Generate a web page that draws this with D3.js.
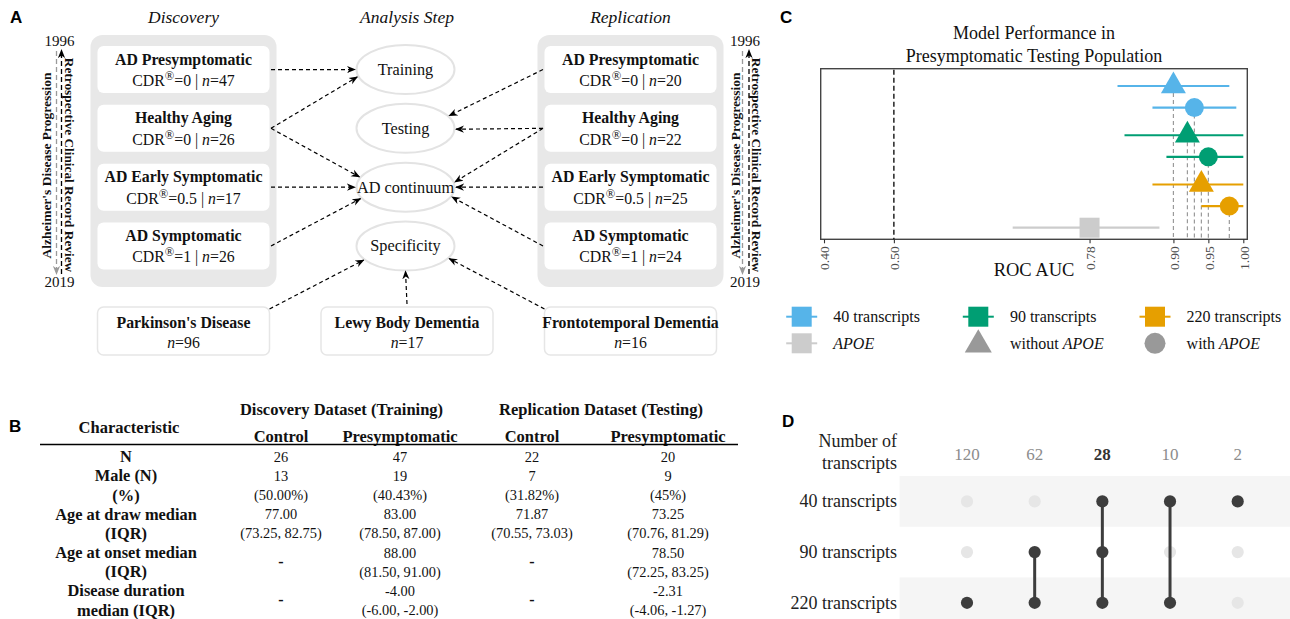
<!DOCTYPE html>
<html><head><meta charset="utf-8">
<script src="https://cdn.jsdelivr.net/npm/d3@7/dist/d3.min.js"></script>
<style>
html,body{margin:0;padding:0;background:#fff;}
svg{display:block;}
</style></head>
<body>
<svg id="fig" width="1290" height="619"></svg>
<script>
// ================= DATA =================
// Panel A
const cohortGroups = ["AD Presymptomatic","Healthy Aging","AD Early Symptomatic","AD Symptomatic"];
const cohortCDR = ["0","0","0.5","1"];
const discoveryN = [47,26,17,26];
const replicationN = [20,22,25,24];
const analysisSteps = ["Training","Testing","AD continuum","Specificity"];
const otherDiseases = ["Parkinson's Disease","Lewy Body Dementia","Frontotemporal Dementia"];
const otherN = [96,17,16];
const discoveryLinks = [[0,"Training"],[1,"Training"],[1,"AD continuum"],[2,"AD continuum"],[3,"AD continuum"]];
const replicationLinks = [[0,"Testing"],[1,"Testing"],[1,"AD continuum"],[2,"AD continuum"],[3,"AD continuum"]];
const otherLinks = [[0,"Specificity"],[1,"Specificity"],[2,"Specificity"]];
const timelineYears = ["1996","2019"];
const timelineLabels = ["Alzheimer's Disease Progression","Retrospective Clinical Record Review"];
const columnTitles = ["Discovery","Analysis Step","Replication"];

// Panel B
const tableGroups = ["Discovery Dataset (Training)","Replication Dataset (Testing)"];
const tableColumns = ["Control","Presymptomatic","Control","Presymptomatic"];
const characteristics = ["N","Male (N)","(%)","Age at draw median","(IQR)","Age at onset median","(IQR)","Disease duration","median (IQR)"];
const discoveryControl = ["26","13","(50.00%)","77.00","(73.25, 82.75)","-",null,"-",null];
const discoveryPresymptomatic = ["47","19","(40.43%)","83.00","(78.50, 87.00)","88.00","(81.50, 91.00)","-4.00","(-6.00, -2.00)"];
const replicationControl = ["22","7","(31.82%)","71.87","(70.55, 73.03)","-",null,"-",null];
const replicationPresymptomatic = ["20","9","(45%)","73.25","(70.76, 81.29)","78.50","(72.25, 83.25)","-2.31","(-4.06, -1.27)"];

// Panel C
const modelSets = ["40 transcripts","40 transcripts","90 transcripts","90 transcripts","220 transcripts","220 transcripts","APOE"];
const modelApoe = ["without","with","without","with","without","with","only"];
const aucEstimate = [0.90,0.93,0.92,0.95,0.94,0.98,0.78];
const aucLower = [0.82,0.87,0.83,0.89,0.87,0.94,0.67];
const aucUpper = [0.98,0.99,1.00,1.00,1.00,1.00,0.88];
const aucTicks = [0.40,0.50,0.78,0.90,0.95,1.00];
const chanceLevel = 0.50;

// Panel D
const transcriptSets = ["40 transcripts","90 transcripts","220 transcripts"];
const intersectionSizes = [120,62,28,10,2];
const intersectionMembers = [["220 transcripts"],["90 transcripts","220 transcripts"],["40 transcripts","90 transcripts","220 transcripts"],["40 transcripts","220 transcripts"],["40 transcripts"]];

// ================= STYLE =================
const SERIF = '"Liberation Serif","Times New Roman",Times,serif';
const SANS = '"Liberation Sans",Arial,sans-serif';
const setColor = {"40 transcripts":"#56B4E9","90 transcripts":"#009E73","220 transcripts":"#E69F00","APOE":"#CCCCCC"};

const svg = d3.select("#fig");
const defs = svg.append("defs");
function marker(id,color){
  defs.append("marker").attr("id",id).attr("viewBox","0 -5 10 10").attr("refX",9).attr("refY",0)
    .attr("markerUnits","userSpaceOnUse").attr("markerWidth",9).attr("markerHeight",9).attr("orient","auto")
    .append("path").attr("d","M0,-4L10,0L0,4L3,0Z").attr("fill",color);
}
marker("arrBlack","#000"); marker("arrGray","#9a9a9a");

// panel letters
[["A",10,23],["B",9,432],["C",780,23],["D",782,427]].forEach(([t,x,y])=>
  svg.append("text").attr("x",x).attr("y",y).attr("font-family",SANS).attr("font-weight","bold").attr("font-size",17).text(t));

// ================= PANEL A =================
const A = svg.append("g").attr("font-family",SERIF).attr("fill","#111");
const colX = d3.scalePoint().domain(columnTitles).range([183.5,630.5]);
const rowY = d3.scaleBand().domain(d3.range(cohortGroups.length)).range([46,269.5]).paddingInner(0.2);
const rowC = i => rowY(i)+rowY.bandwidth()/2;
const boxW = 172;

A.selectAll(null).data(columnTitles).join("text")
  .attr("x",d=>colX(d)).attr("y",23).attr("text-anchor","middle")
  .attr("font-style","italic").attr("font-size",17.5).text(d=>d);

function cohortColumn(title, ns){
  const cx = colX(title);
  const g = A.append("g");
  g.append("rect").attr("x",cx-boxW/2-7).attr("y",35).attr("width",boxW+14).attr("height",252)
    .attr("rx",12).attr("fill","#e8e8e8");
  const rows = g.selectAll(null).data(cohortGroups).join("g");
  rows.append("rect").attr("x",cx-boxW/2).attr("y",(d,i)=>rowY(i)).attr("width",boxW)
    .attr("height",rowY.bandwidth()).attr("rx",6).attr("fill","#fff");
  rows.append("text").attr("x",cx).attr("y",(d,i)=>rowY(i)+18.5).attr("text-anchor","middle")
    .attr("font-weight","bold").attr("font-size",15.8).text(d=>d);
  const t2 = rows.append("text").attr("x",cx).attr("y",(d,i)=>rowY(i)+40).attr("text-anchor","middle").attr("font-size",15.8);
  t2.append("tspan").text("CDR");
  t2.append("tspan").attr("font-size",12.5).attr("dy",-6).text("®");
  t2.append("tspan").attr("dy",6).text((d,i)=>"="+cohortCDR[i]+" | ");
  t2.append("tspan").attr("font-style","italic").text("n");
  t2.append("tspan").text((d,i)=>"="+ns[i]);
}
cohortColumn("Discovery", discoveryN);
cohortColumn("Replication", replicationN);

// analysis step ellipses
const ellX = colX("Analysis Step")-1.5, erx = 49, ery = 24.5;
const stepY = s => rowC(analysisSteps.indexOf(s));
A.selectAll(null).data(analysisSteps).join("ellipse")
  .attr("cx",ellX).attr("cy",d=>stepY(d)).attr("rx",erx).attr("ry",ery)
  .attr("fill","#fff").attr("stroke","#e3e3e3").attr("stroke-width",2);
A.selectAll(null).data(analysisSteps).join("text")
  .attr("x",ellX).attr("y",d=>stepY(d)+5.5).attr("text-anchor","middle").attr("font-size",16.3).text(d=>d);

// other disease boxes
const otherX = columnTitles.map(c=>colX(c));
const otherTop = 307, otherH = 48;
A.selectAll(null).data(otherDiseases).join("rect")
  .attr("x",(d,i)=>otherX[i]-boxW/2).attr("y",otherTop).attr("width",boxW).attr("height",otherH)
  .attr("rx",6).attr("fill","#fff").attr("stroke","#e6e6e6").attr("stroke-width",1.5);
A.selectAll(null).data(otherDiseases).join("text")
  .attr("x",(d,i)=>otherX[i]).attr("y",otherTop+21).attr("text-anchor","middle")
  .attr("font-weight","bold").attr("font-size",15.8).text(d=>d);
const on = A.selectAll(null).data(otherN).join("text")
  .attr("x",(d,i)=>otherX[i]).attr("y",otherTop+41).attr("text-anchor","middle").attr("font-size",15.8);
on.append("tspan").attr("font-style","italic").text("n");
on.append("tspan").text(d=>"="+d);

// arrows (angle = where arrow meets the ellipse, degrees, y down)
const discoveryAngles = [180,163,204,180,153];
const replicationAngles = [-30,2,-12,0,23];
const otherAngles = [146,90,30];
const ellPt = (s,a)=>[ellX+1.03*erx*Math.cos(a*Math.PI/180), stepY(s)+1.03*ery*Math.sin(a*Math.PI/180)];
const arrows = [];
discoveryLinks.forEach(([r,s],k)=>arrows.push([[colX("Discovery")+boxW/2+1.5,rowC(r)],ellPt(s,discoveryAngles[k])]));
replicationLinks.forEach(([r,s],k)=>arrows.push([[colX("Replication")-boxW/2-1.5,rowC(r)],ellPt(s,replicationAngles[k])]));
otherLinks.forEach(([r,s],k)=>{
  const sx = r===0 ? otherX[r]+boxW/2 : r===2 ? otherX[r]-boxW/2 : otherX[r];
  const sy = r===1 ? otherTop-3 : otherTop+2;
  arrows.push([[sx,sy],ellPt(s,otherAngles[k])]);
});
A.selectAll(null).data(arrows).join("line")
  .attr("x1",d=>d[0][0]).attr("y1",d=>d[0][1]).attr("x2",d=>d[1][0]).attr("y2",d=>d[1][1])
  .attr("stroke","#000").attr("stroke-width",1.2).attr("stroke-dasharray","4,3")
  .attr("marker-end","url(#arrBlack)");

// timelines
function timeline(xg, xb, xl1, xl2, xy){
  const g = A.append("g");
  g.append("line").attr("x1",xg).attr("x2",xg).attr("y1",51).attr("y2",274)
    .attr("stroke","#9a9a9a").attr("stroke-width",1.3).attr("stroke-dasharray","5,3").attr("marker-end","url(#arrGray)");
  g.append("line").attr("x1",xb).attr("x2",xb).attr("y1",274).attr("y2",50)
    .attr("stroke","#000").attr("stroke-width",1.3).attr("stroke-dasharray","5,3").attr("marker-end","url(#arrBlack)");
  g.selectAll(null).data(timelineYears).join("text").attr("x",xy).attr("y",(d,i)=>i?287:45.5)
    .attr("text-anchor","middle").attr("font-size",15).text(d=>d);
  g.append("text").attr("transform",`translate(${xl1},165.5) rotate(-90)`).attr("dy","0.35em")
    .attr("text-anchor","middle").attr("font-weight","bold").attr("font-size",13.5).text(timelineLabels[0]);
  g.append("text").attr("transform",`translate(${xl2},165) rotate(90)`).attr("dy","0.35em")
    .attr("text-anchor","middle").attr("font-weight","bold").attr("font-size",13.3).text(timelineLabels[1]);
}
const leftEdge = colX("Discovery")-boxW/2-7, rightEdge = colX("Replication")+boxW/2+7;
timeline(leftEdge-34, leftEdge-29, leftEdge-44, leftEdge-20.5, leftEdge-31);
timeline(rightEdge+19, rightEdge+25.5, rightEdge+11.5, rightEdge+33, rightEdge+21.5);

// ================= PANEL B =================
const B = svg.append("g").attr("font-family",SERIF).attr("fill","#111");
const tableColCenters = [281,400,532,668];
const labelX = 126;
const tRow = d3.scaleLinear().domain([0,characteristics.length-1]).range([456.7,610]);
B.append("text").attr("x",labelX+3).attr("y",433).attr("text-anchor","middle").attr("font-weight","bold").attr("font-size",16.5).text("Characteristic");
B.selectAll(null).data(tableGroups).join("text")
  .attr("x",(d,i)=>(tableColCenters[2*i]+tableColCenters[2*i+1])/2+1).attr("y",415)
  .attr("text-anchor","middle").attr("font-weight","bold").attr("font-size",16.5).text(d=>d);
B.selectAll(null).data(tableColumns).join("text")
  .attr("x",(d,i)=>tableColCenters[i]).attr("y",441.5)
  .attr("text-anchor","middle").attr("font-weight","bold").attr("font-size",16.5).text(d=>d);
B.append("line").attr("x1",40).attr("x2",738).attr("y1",444.5).attr("y2",444.5).attr("stroke","#000").attr("stroke-width",1.3);
B.selectAll(null).data(characteristics).join("text")
  .attr("x",labelX).attr("y",(d,i)=>tRow(i)+5.5).attr("text-anchor","middle")
  .attr("font-weight","bold").attr("font-size",16.4).text(d=>d);
[discoveryControl,discoveryPresymptomatic,replicationControl,replicationPresymptomatic].forEach((col,c)=>{
  const cells = col.map((v,i)=>({v,i})).filter(d=>d.v!==null);
  B.selectAll(null).data(cells).join("text")
    .attr("x",tableColCenters[c])
    .attr("y",d=> (col[d.i+1]===null ? (tRow(d.i)+tRow(d.i+1))/2 : tRow(d.i))+5)
    .attr("text-anchor","middle").attr("font-size",d=>d.v==="-"?16:14.4)
    .attr("font-weight",d=>d.v==="-"?"bold":"normal").text(d=>d.v);
});

// ================= PANEL C =================
const C = svg.append("g").attr("font-family",SERIF);
const xC = d3.scaleLinear().domain([0.40,1.00]).range([824,1243.3]);
const pTop = 68.7, pBot = 239.3, pL = 820.7, pR = 1247.3;
const rowUnits = [];
modelSets.forEach((s,i)=>{
  if(i===0){ rowUnits.push(0); return; }
  const gap = (s!==modelSets[i-1] && s!=="APOE") ? 0.28 : 0;
  rowUnits.push(rowUnits[i-1]+1+gap);
});
const yC = d3.scaleLinear().domain([0,d3.max(rowUnits)]).range([86,227.7]);
const pCx = (pL+pR)/2;
C.selectAll(null).data(["Model Performance in","Presymptomatic Testing Population"]).join("text")
  .attr("x",pCx).attr("y",(d,i)=>39+i*23).attr("text-anchor","middle").attr("font-size",18).attr("fill","#111").text(d=>d);
C.append("rect").attr("x",pL).attr("y",pTop).attr("width",pR-pL).attr("height",pBot-pTop)
  .attr("fill","#fff").attr("stroke","#444").attr("stroke-width",1.4);
C.append("line").attr("x1",xC(chanceLevel)).attr("x2",xC(chanceLevel)).attr("y1",pTop+1).attr("y2",pBot)
  .attr("stroke","#000").attr("stroke-width",1.3).attr("stroke-dasharray","5,3");
const models = modelSets.map((s,i)=>({s,i,apoe:modelApoe[i],est:aucEstimate[i],lo:aucLower[i],hi:aucUpper[i]}));
C.selectAll(null).data(models.filter(d=>d.apoe!=="only")).join("line")
  .attr("x1",d=>xC(d.est)).attr("x2",d=>xC(d.est)).attr("y1",d=>yC(rowUnits[d.i])).attr("y2",pBot)
  .attr("stroke","#9a9a9a").attr("stroke-width",1.2).attr("stroke-dasharray","4,3");
C.selectAll(null).data(models).join("line")
  .attr("x1",d=>xC(d.lo)).attr("x2",d=>xC(d.hi)).attr("y1",d=>yC(rowUnits[d.i])).attr("y2",d=>yC(rowUnits[d.i]))
  .attr("stroke",d=>setColor[d.s]).attr("stroke-width",2.2);
const symFor = d => d.apoe==="without" ? d3.symbol(d3.symbolTriangle,270)() :
                    d.apoe==="with" ? d3.symbol(d3.symbolCircle,284)() : d3.symbol(d3.symbolSquare,400)();
C.selectAll(null).data(models).join("path")
  .attr("transform",d=>`translate(${xC(d.est)},${yC(rowUnits[d.i])})`)
  .attr("d",symFor).attr("fill",d=>setColor[d.s]);
const ax = C.append("g").attr("transform",`translate(0,${pBot})`)
  .call(d3.axisBottom(xC).tickValues(aucTicks).tickFormat(d3.format(".2f")).tickSize(4).tickSizeOuter(0));
ax.select(".domain").remove();
ax.selectAll(".tick line").attr("stroke","#333").attr("stroke-width",1.1);
ax.selectAll(".tick text").attr("transform","rotate(-90)").attr("x",-7).attr("y",0).attr("dy","0.35em")
  .attr("text-anchor","end").attr("font-family",SERIF).attr("font-size",13.5).attr("fill","#4d4d4d");
C.append("text").attr("x",pCx).attr("y",275.5).attr("text-anchor","middle").attr("font-size",18.5).attr("fill","#111").text("ROC AUC");

// legend
const legKeyX = [801.7, 978.3, 1155], legRowY = [316.7, 343.3];
transcriptSets.forEach((s,k)=>{
  const g = C.append("g").attr("transform",`translate(${legKeyX[k]},${legRowY[0]})`);
  g.append("line").attr("x1",-15.5).attr("x2",15.5).attr("stroke",setColor[s]).attr("stroke-width",2);
  g.append("rect").attr("x",-10).attr("y",-10).attr("width",20).attr("height",20).attr("fill",setColor[s]);
  C.append("text").attr("x",legKeyX[k]+31.6).attr("y",legRowY[0]+5.5).attr("font-size",16).attr("fill","#111").text(s);
});
{
  const g = C.append("g").attr("transform",`translate(${legKeyX[0]},${legRowY[1]})`);
  g.append("line").attr("x1",-15.5).attr("x2",15.5).attr("stroke",setColor.APOE).attr("stroke-width",2);
  g.append("rect").attr("x",-10).attr("y",-10).attr("width",20).attr("height",20).attr("fill",setColor.APOE);
  C.append("path").attr("transform",`translate(${legKeyX[1]},${legRowY[1]+1.5})`).attr("d",d3.symbol(d3.symbolTriangle,316)()).attr("fill","#999");
  C.append("path").attr("transform",`translate(${legKeyX[2]},${legRowY[1]})`).attr("d",d3.symbol(d3.symbolCircle,346)()).attr("fill","#999");
  const legTexts = [["","APOE"],["without ","APOE"],["with ","APOE"]];
  legTexts.forEach(([a,b],k)=>{
    const t = C.append("text").attr("x",legKeyX[k]+31.6).attr("y",legRowY[1]+5.5).attr("font-size",16).attr("fill","#111");
    if(a) t.append("tspan").text(a);
    t.append("tspan").attr("font-style","italic").text(b);
  });
}

// ================= PANEL D =================
const D = svg.append("g").attr("font-family",SERIF);
const xD = d3.scalePoint().domain(d3.range(intersectionSizes.length)).range([967,1237.7]);
const yD = d3.scalePoint().domain(transcriptSets).range([501.4,602.8]);
const bandH = yD.step();
D.selectAll(null).data(transcriptSets.filter((s,i)=>i%2===0)).join("rect")
  .attr("x",899.6).attr("y",d=>yD(d)-bandH/2).attr("width",1290-899.6).attr("height",bandH).attr("fill","#f5f5f5");
D.selectAll(null).data(["Number of","transcripts"]).join("text")
  .attr("x",897).attr("y",(d,i)=>446.5+i*22).attr("text-anchor","end").attr("font-size",18).attr("fill","#222").text(d=>d);
D.selectAll(null).data(transcriptSets).join("text")
  .attr("x",897).attr("y",d=>yD(d)+6).attr("text-anchor","end").attr("font-size",18).attr("fill","#222").text(d=>d);
const allIdx = intersectionMembers.map(m=>m.length===transcriptSets.length);
D.selectAll(null).data(intersectionSizes).join("text")
  .attr("x",(d,i)=>xD(i)).attr("y",459.5).attr("text-anchor","middle").attr("font-size",17)
  .attr("font-weight",(d,i)=>allIdx[i]?"bold":"normal").attr("fill",(d,i)=>allIdx[i]?"#333":"#8c8c8c").text(d=>d);
const cells = [];
intersectionMembers.forEach((m,i)=>transcriptSets.forEach(s=>cells.push({i,s,on:m.includes(s)})));
D.selectAll(null).data(cells.filter(c=>!c.on)).join("circle")
  .attr("cx",d=>xD(d.i)).attr("cy",d=>yD(d.s)).attr("r",6.1).attr("fill","#e6e6e6");
D.selectAll(null).data(intersectionMembers.map((m,i)=>({m,i})).filter(d=>d.m.length>1)).join("line")
  .attr("x1",d=>xD(d.i)).attr("x2",d=>xD(d.i))
  .attr("y1",d=>d3.min(d.m,s=>yD(s))).attr("y2",d=>d3.max(d.m,s=>yD(s)))
  .attr("stroke","#3d3d3d").attr("stroke-width",3);
D.selectAll(null).data(cells.filter(c=>c.on)).join("circle")
  .attr("cx",d=>xD(d.i)).attr("cy",d=>yD(d.s)).attr("r",6.1).attr("fill","#3d3d3d");
</script>
</body></html>
